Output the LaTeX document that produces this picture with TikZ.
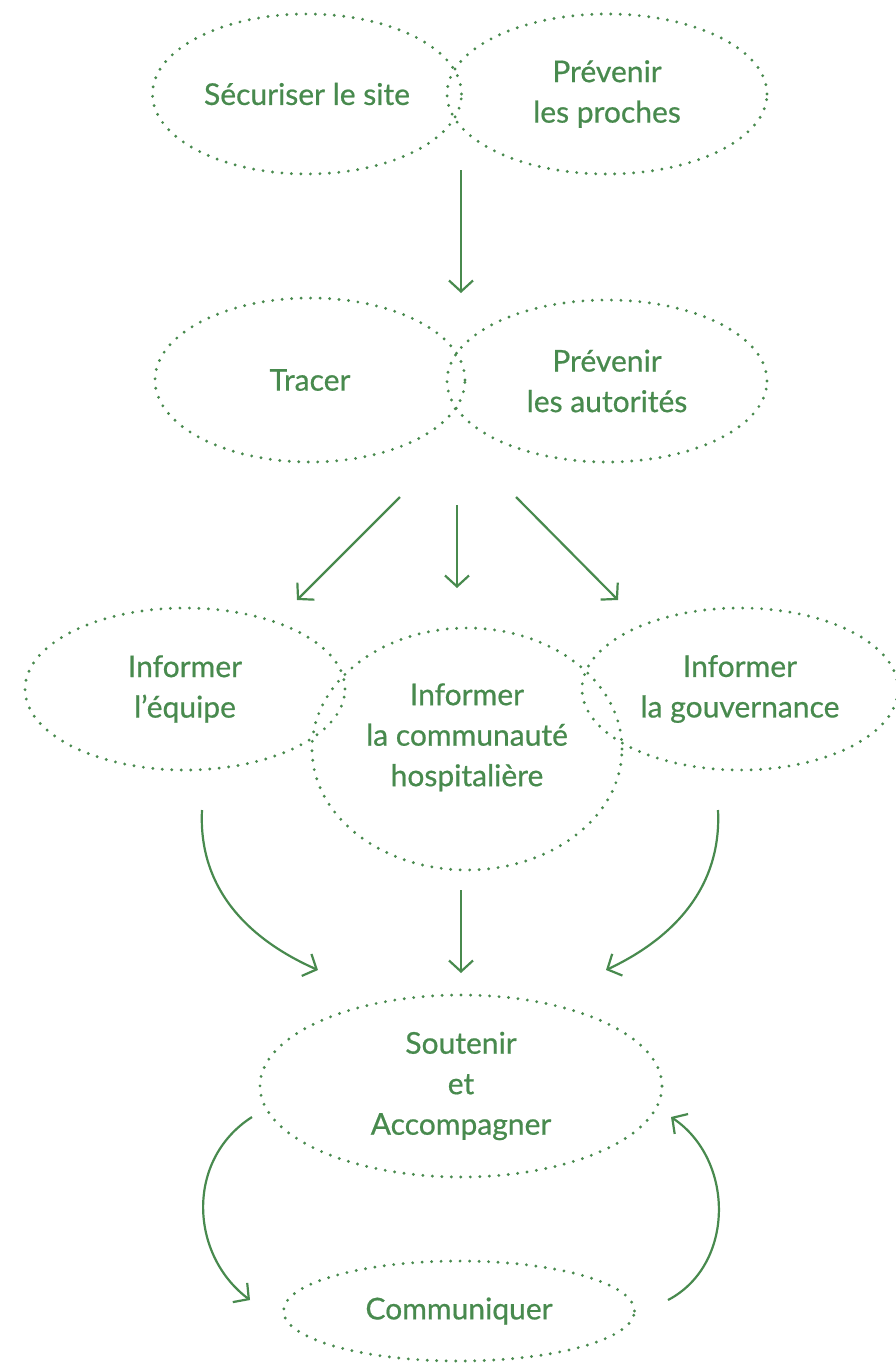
\documentclass[tikz,border=0pt]{standalone}
\usepackage{fontspec}
\setmainfont{Lato}[FakeBold=0.6]
\usetikzlibrary{shapes.geometric,arrows.meta}
\definecolor{vert}{RGB}{72,138,78}
\tikzset{
  bubble/.style={ellipse, draw=vert, line width=3.2pt, dash pattern=on 0pt off 9.5pt, line cap=round,
    inner sep=0pt, text=vert, align=center, font=\fontsize{30}{40.5}\selectfont},
  flow/.style={draw=vert, line width=2.2pt, -{Straight Barb[length=11pt,width=24pt,line width=2.2pt]}}
}
\begin{document}
\begin{tikzpicture}[x=1pt,y=-1pt]
\useasboundingbox (0,0) rectangle (895,1363);
\node[bubble, minimum width=309pt, minimum height=160pt] (sec) at (307,94) {Sécuriser le site};
\node[bubble, minimum width=320pt, minimum height=160pt] (pro) at (607,94) {Prévenir\\les proches};
\node[bubble, minimum width=310pt, minimum height=164pt] (tra) at (310,380) {Tracer};
\node[bubble, minimum width=320pt, minimum height=162pt] (aut) at (607,381) {Prévenir\\les autorités};
\node[bubble, minimum width=320pt, minimum height=162pt] (equ) at (185,689) {Informer\\l’équipe};
\node[bubble, minimum width=310pt, minimum height=242pt] (com) at (467,749) {Informer\\la communauté\\hospitalière\\[-12pt]};
\node[bubble, minimum width=316pt, minimum height=162pt] (gou) at (740,689) {Informer\\la gouvernance};
\node[bubble, minimum width=402pt, minimum height=182pt] (sou) at (461,1086) {Soutenir\\et\\Accompagner};
\node[bubble, minimum width=351pt, minimum height=100pt] (cmq) at (459,1311) {Communiquer};

\coordinate (a1s) at (461,170);  \coordinate (a1e) at (461,293);
\coordinate (a2s) at (400,497);  \coordinate (a2e) at (297,600);
\coordinate (a3s) at (457,505);  \coordinate (a3e) at (457,588);
\coordinate (a4s) at (516,497);  \coordinate (a4e) at (618,600);
\coordinate (b1s) at (202,810);  \coordinate (b1e) at (318,970);
\coordinate (b2s) at (461,890);  \coordinate (b2e) at (461,973);
\coordinate (b3s) at (718,810);  \coordinate (b3e) at (606,970);
\coordinate (c1s) at (252,1117); \coordinate (c1e) at (250,1300);
\coordinate (c2s) at (668,1300); \coordinate (c2e) at (671,1117);

\draw[flow] (a1s) -- (a1e);
\draw[flow] (a2s) -- (a2e);
\draw[flow] (a3s) -- (a3e);
\draw[flow] (a4s) -- (a4e);
\draw[flow] (b1s) .. controls (198,890) and (250,940) .. (b1e);
\draw[flow] (b2s) -- (b2e);
\draw[flow] (b3s) .. controls (722,890) and (670,940) .. (b3e);
\draw[flow] (c1s) .. controls (185,1160) and (190,1255) .. (c1e);
\draw[flow] (c2s) .. controls (735,1265) and (735,1160) .. (c2e);
\end{tikzpicture}
\end{document}
